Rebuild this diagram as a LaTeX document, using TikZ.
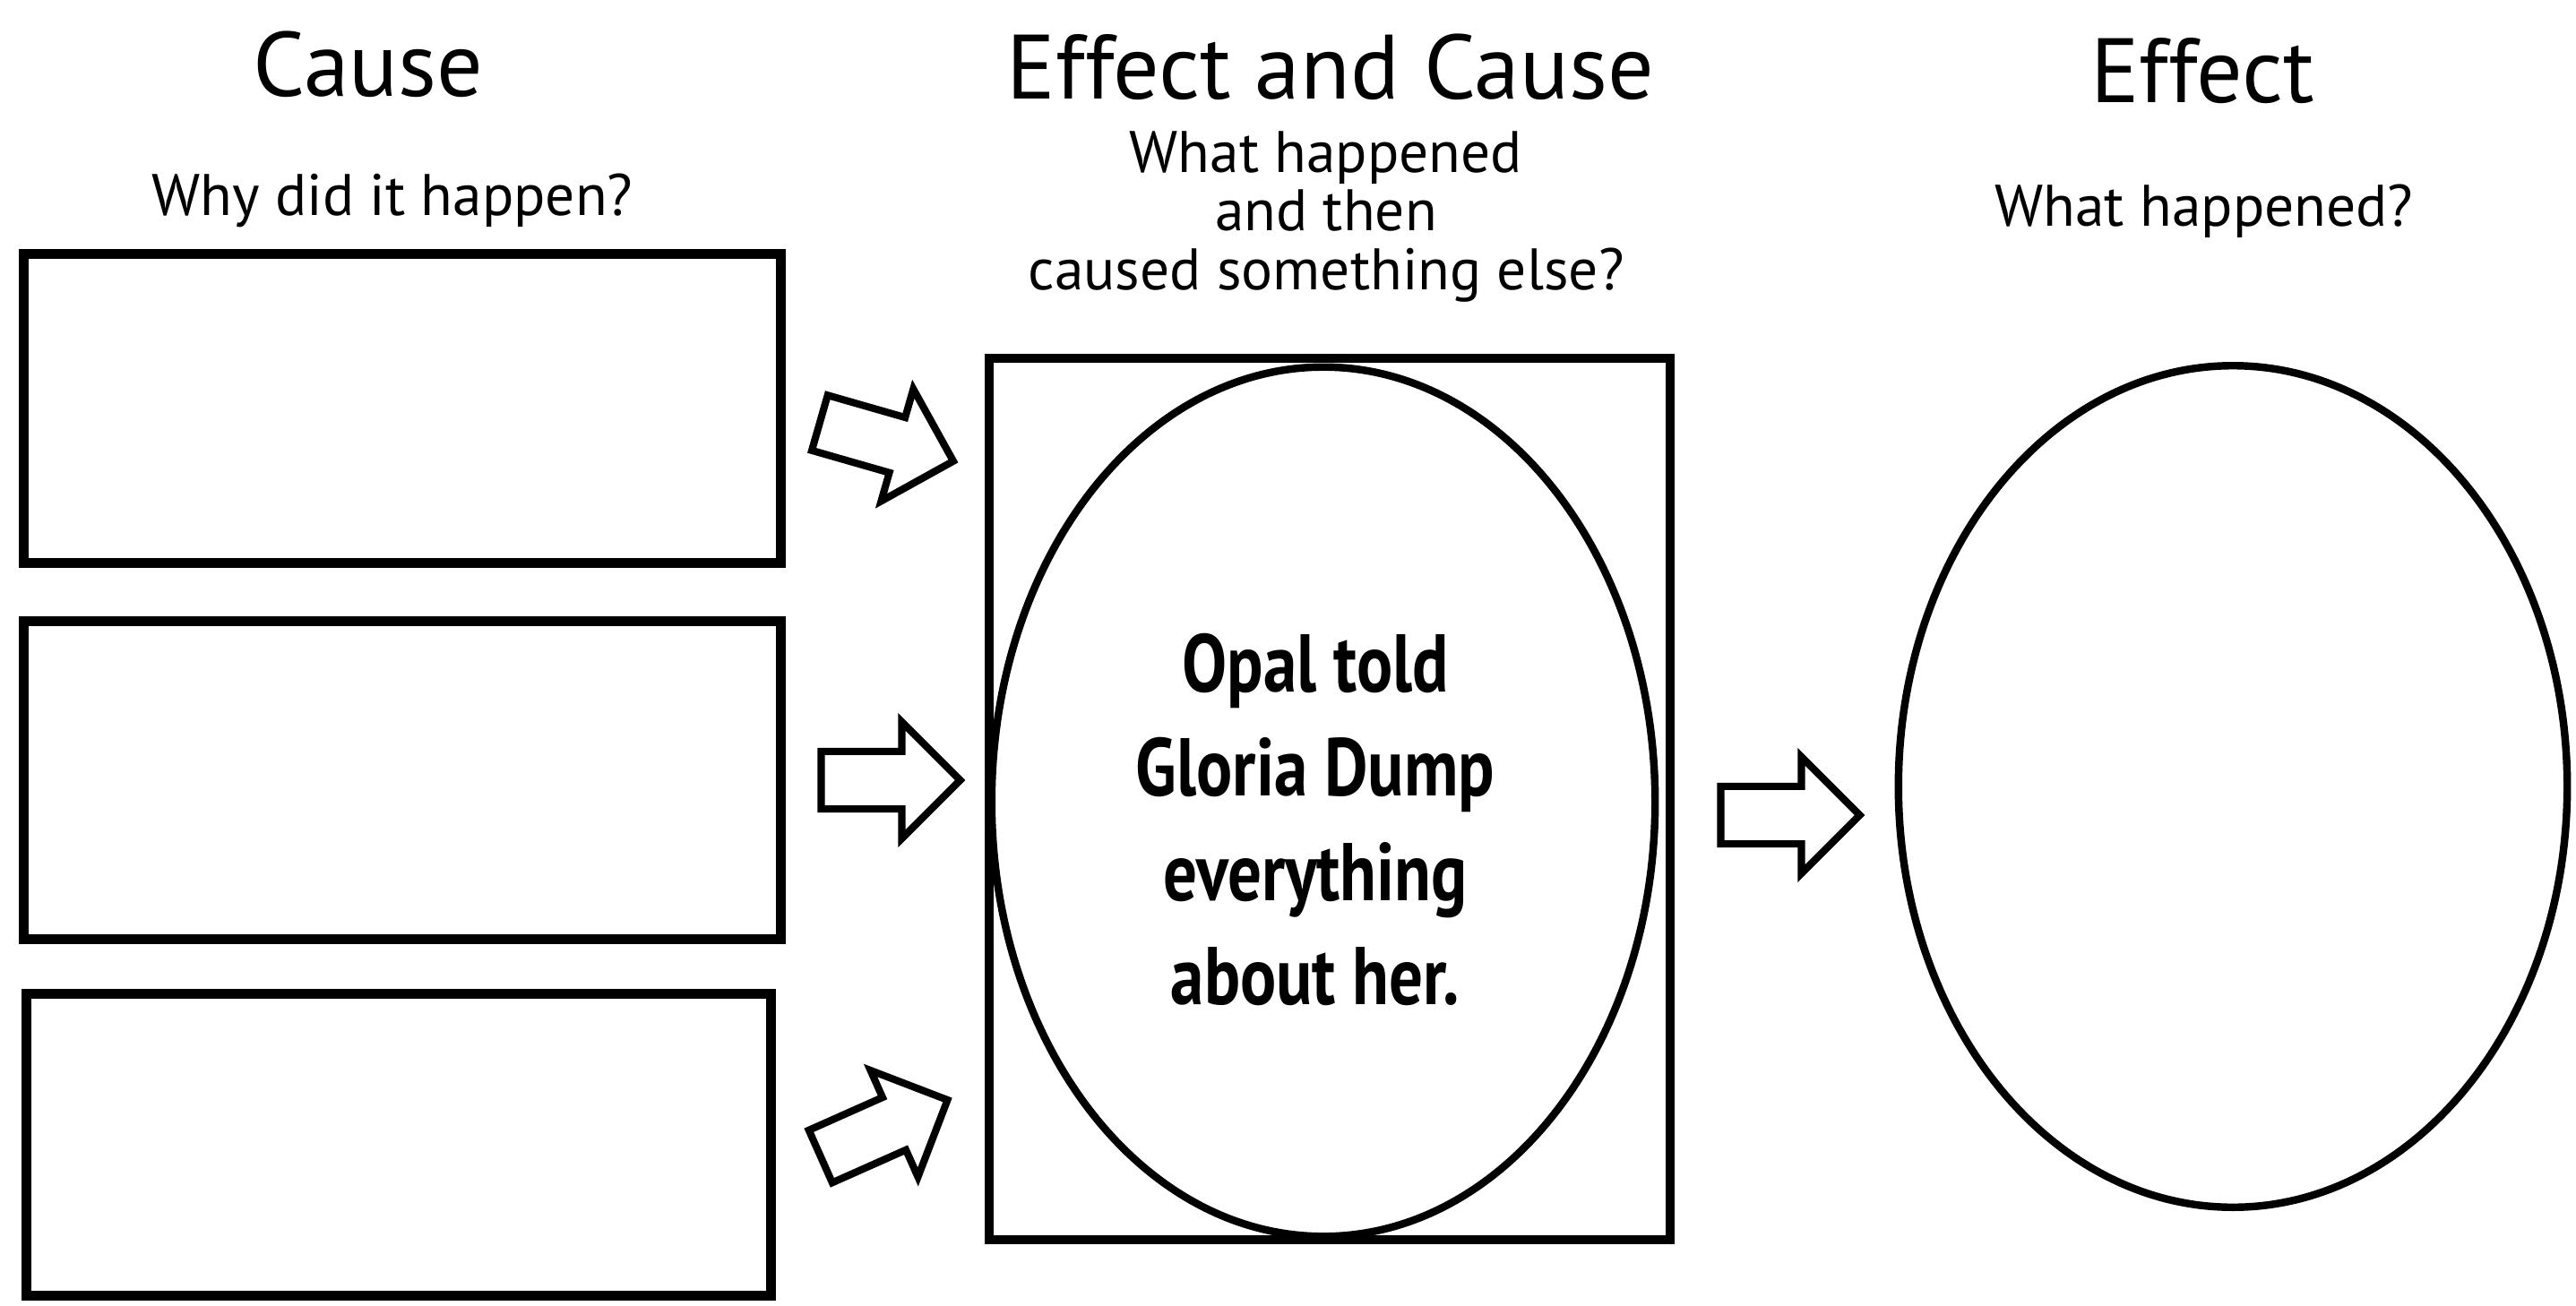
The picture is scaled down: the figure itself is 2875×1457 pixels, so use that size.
\documentclass[tikz,border=0pt]{standalone}
\usepackage{fontspec}
\setmainfont{PT Sans}
\newfontfamily\opalfont[FakeStretch=0.82]{PT Sans}
\usetikzlibrary{shapes.geometric, shapes.arrows}
\tikzset{
  box/.style = {draw, line width=3.1pt, inner sep=0pt},
  oval/.style = {draw, ellipse, line width=2.4pt, inner sep=0pt},
  fat/.style = {draw, single arrow, line width=2.3pt, inner xsep=0pt, inner ysep=0.28cm,
                minimum height=1.55cm, single arrow head extend=0.33cm},
  head/.style = {anchor=base, font=\fontsize{29}{32}\selectfont},
  ask/.style = {font=\fontsize{18.6}{18.7}\selectfont, align=center}
}
\begin{document}
\begin{tikzpicture}[x=0.01cm, y=-0.01cm]
\useasboundingbox (0,0) rectangle (2875,1457);
% column heads
\node[head] (tCause) at (411,107) {Cause};
\node[head] (tBoth) at (1485,110) {Effect and Cause};
\node[head] (tEffect) at (2458,114) {Effect};
\node[ask, anchor=base] (qCause) at (438,240) {Why did it happen?};
\node[ask] (qBoth) at (1480,242) {What happened\\and then\\caused something else?};
\node[ask, anchor=base] (qEffect) at (2460,252) {What happened?};
% cause boxes
\node[box, minimum width=8.44cm, minimum height=3.44cm] (cause1) at (449,456) {};
\node[box, minimum width=8.45cm, minimum height=3.54cm] (cause2) at (449,871) {};
\node[box, minimum width=8.30cm, minimum height=3.36cm] (cause3) at (445,1278) {};
% effect and cause
\node[box, line width=2.8pt, minimum width=7.6cm, minimum height=9.84cm] (both) at (1484,892) {};
\node[oval, minimum width=7.4cm, minimum height=9.7cm] (bothIn) at (1477,895) {};
\node[align=center, font=\opalfont\bfseries\fontsize{26}{33}\selectfont] (opal) at (1468,915)
      {Opal told\\Gloria Dump\\everything\\about her.};
% effect
\node[oval, minimum width=7.46cm, minimum height=9.39cm] (effect) at (2492,878) {};
% block arrows
\node[fat, rotate=-16] (a1) at (974,489) {};
\node[fat] (a2) at (978,871) {};
\node[fat, rotate=24] (a3) at (972,1266) {};
\node[fat] (a4) at (1982,910) {};
\end{tikzpicture}
\end{document}
